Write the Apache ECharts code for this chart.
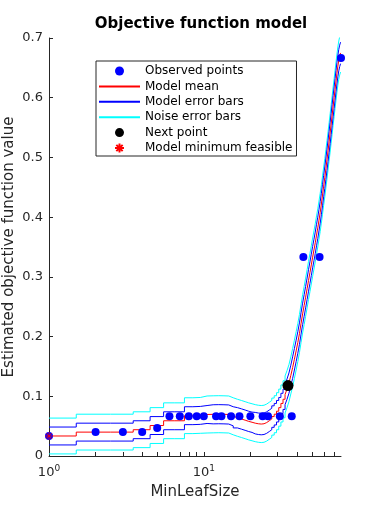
<!DOCTYPE html>
<html>
<head>
<meta charset="utf-8">
<script src="https://cdn.jsdelivr.net/npm/echarts@6/dist/echarts.min.js"></script>
<style>
  html, body { margin: 0; padding: 0; background: #fff; }
  #main { width: 377px; height: 512px; }
</style>
</head>
<body>
<div id="main"></div>
<script>
// MinLeafSize grid the model is evaluated on
var gridSize = [1, 2, 3, 4, 5, 6, 7, 8, 9, 10, 11, 12, 13, 14, 15, 16, 17, 18, 19, 20,
  21, 22, 23, 24, 25, 26, 27, 28, 29, 30, 31, 32, 33, 34, 35, 36, 37, 38, 39, 40,
  41, 42, 43, 44, 45, 46, 47, 48, 49, 50, 51, 52, 53, 54, 55, 56, 57, 58, 59, 60,
  61, 62, 63, 64, 65, 66, 67, 68, 69, 70, 71, 72, 73, 74, 75, 76, 77];

// model mean
var modelMean = [0.0335, 0.040, 0.040, 0.044, 0.051, 0.059, 0.059, 0.0675, 0.068, 0.0695,
  0.0698, 0.070, 0.0698, 0.0695, 0.0665, 0.064, 0.062, 0.060, 0.058, 0.0565,
  0.055, 0.054, 0.0535, 0.054, 0.056, 0.059, 0.062, 0.066, 0.070, 0.075,
  0.081, 0.088, 0.095, 0.103, 0.112, 0.122, 0.135, 0.148, 0.162, 0.176,
  0.190, 0.205, 0.222, 0.238, 0.252, 0.266, 0.280, 0.294, 0.307, 0.320,
  0.333, 0.345, 0.357, 0.370, 0.382, 0.395, 0.408, 0.422, 0.437, 0.452,
  0.466, 0.481, 0.496, 0.511, 0.526, 0.541, 0.556, 0.571, 0.586, 0.600,
  0.614, 0.628, 0.641, 0.653, 0.663, 0.670, 0.675];

// half width of model error bars
var modelErr = [0.015, 0.015, 0.015, 0.015, 0.015, 0.015, 0.015, 0.015, 0.015, 0.015,
  0.016, 0.016, 0.016, 0.016, 0.016, 0.017, 0.017, 0.017, 0.017, 0.017,
  0.018, 0.018, 0.018, 0.018, 0.018, 0.018, 0.018, 0.018, 0.018, 0.018,
  0.017, 0.017, 0.017, 0.017, 0.017, 0.017, 0.017, 0.018, 0.018, 0.018,
  0.018, 0.018, 0.018, 0.018, 0.018, 0.018, 0.018, 0.018, 0.018, 0.018,
  0.018, 0.018, 0.018, 0.018, 0.018, 0.018, 0.018, 0.018, 0.018, 0.018,
  0.018, 0.018, 0.018, 0.018, 0.018, 0.018, 0.018, 0.018, 0.018, 0.018,
  0.018, 0.018, 0.018, 0.018, 0.018, 0.018, 0.018];

// half width of noise error bars
var noiseErr = [0.030, 0.030, 0.030, 0.030, 0.030, 0.030, 0.030, 0.030, 0.030, 0.031,
  0.031, 0.031, 0.031, 0.031, 0.031, 0.031, 0.031, 0.031, 0.031, 0.031,
  0.031, 0.031, 0.031, 0.031, 0.031, 0.031, 0.031, 0.031, 0.031, 0.031,
  0.031, 0.031, 0.031, 0.031, 0.031, 0.031, 0.031, 0.032, 0.032, 0.032,
  0.032, 0.032, 0.032, 0.032, 0.032, 0.032, 0.032, 0.032, 0.032, 0.032,
  0.032, 0.032, 0.032, 0.032, 0.032, 0.032, 0.032, 0.032, 0.032, 0.032,
  0.032, 0.032, 0.032, 0.032, 0.032, 0.032, 0.032, 0.032, 0.032, 0.032,
  0.032, 0.032, 0.032, 0.032, 0.032, 0.032, 0.032];

var observedX = [1, 2, 3, 4, 5, 6, 7, 8, 9, 10, 12, 13, 15, 17, 20, 24, 26, 31, 37, 44, 56, 77];
var observedY = [0.0333, 0.040, 0.040, 0.040, 0.0467, 0.0667, 0.0667, 0.0667, 0.0667, 0.0667,
  0.0667, 0.0667, 0.0667, 0.0667, 0.0667, 0.0667, 0.0667, 0.0667, 0.0667, 0.3333, 0.3333, 0.6667];

var nextPoint = [35, 0.118];
var minFeasible = [1, 0.0335];

var xMajorTicks = [1, 10];
var xMinorTicks = [1, 2, 3, 4, 5, 6, 7, 8, 9, 10, 20, 30, 40, 50, 60, 70];

var FONT = 'DejaVu Sans';
var AX = '#262626';

// turn per-size values into [x, y] steps centred on each integer
function toStep(vals) {
    var d = gridSize.map(function (k, i) {
        return [i === 0 ? k : k - 0.5, vals[i]];
    });
    d.push([gridSize[gridSize.length - 1], vals[vals.length - 1]]);
    return d;
}
function shifted(err, sign) {
    return modelMean.map(function (m, i) { return m + sign * err[i]; });
}

function stepLine(name, color, vals, z) {
    return {
        name: name, type: 'line', step: 'end', data: toStep(vals),
        symbol: 'none', showSymbol: false, silent: true, z: z,
        lineStyle: { color: color, width: 1 }, itemStyle: { color: color }
    };
}

var asterisk = 'path://M10,0L10,20M0,10L20,10M3,3L17,17M3,17L17,3';
var lineIcon = { itemStyle: { opacity: 0 } };

var option = {
    animation: false,
    backgroundColor: '#fff',
    title: {
        text: 'Objective function model',
        left: 196, top: 12, textAlign: 'center',
        textStyle: { fontFamily: FONT, fontSize: 15, fontWeight: 'bold', color: '#000' }
    },
    legend: {
        orient: 'vertical', left: 96, top: 61,
        padding: [3, 4, 1, 2],
        itemWidth: 41, itemHeight: 9, itemGap: 1.4,
        borderColor: AX, borderWidth: 1, backgroundColor: '#fff',
        textStyle: { fontFamily: FONT, fontSize: 12, color: '#000', lineHeight: 14 },
        data: [
            { name: 'Observed points' },
            Object.assign({ name: 'Model mean' }, lineIcon),
            Object.assign({ name: 'Model error bars' }, lineIcon),
            Object.assign({ name: 'Noise error bars' }, lineIcon),
            { name: 'Next point' },
            { name: 'Model minimum feasible' }
        ]
    },
    grid: { left: 49, right: 36, top: 38, bottom: 56, outerBoundsMode: 'none' },
    xAxis: {
        type: 'log', logBase: 10, min: 1, max: 77,
        name: 'MinLeafSize', nameLocation: 'middle', nameGap: 29, nameMoveOverlap: false,
        nameTextStyle: { fontFamily: FONT, fontSize: 15, color: AX },
        axisLine: { lineStyle: { color: AX, width: 1 } },
        axisTick: { inside: true, length: 4, customValues: xMinorTicks, lineStyle: { color: AX } },
        axisLabel: {
            customValues: xMajorTicks, margin: 8, color: AX,
            formatter: function (v) {
                return '{b|10}{s|' + Math.round(Math.log10(v)) + '}';
            },
            rich: {
                b: { fontFamily: FONT, fontSize: 13, color: AX },
                s: { fontFamily: FONT, fontSize: 9, color: AX, padding: [0, 0, 9, 0] }
            }
        },
        splitLine: { show: false }
    },
    yAxis: {
        type: 'value', min: 0, max: 0.7, interval: 0.1,
        name: 'Estimated objective function value', nameLocation: 'middle',
        nameGap: 32, nameMoveOverlap: false,
        nameTextStyle: { fontFamily: FONT, fontSize: 15, color: AX },
        axisLine: { show: true, lineStyle: { color: AX, width: 1 } },
        axisTick: { show: true, inside: true, length: 4, lineStyle: { color: AX } },
        axisLabel: {
            fontFamily: FONT, fontSize: 13, color: AX, margin: 6,
            formatter: function (v) { return String(Math.round(v * 10) / 10); }
        },
        splitLine: { show: false }
    },
    series: [
        stepLine('Noise error bars', '#00ffff', shifted(noiseErr, 1), 1),
        stepLine('Noise error bars', '#00ffff', shifted(noiseErr, -1), 1),
        stepLine('Model error bars', '#0000ff', shifted(modelErr, 1), 2),
        stepLine('Model error bars', '#0000ff', shifted(modelErr, -1), 2),
        stepLine('Model mean', '#ff0000', modelMean, 3),
        {
            name: 'Observed points', type: 'scatter', z: 4, silent: true,
            symbol: 'circle', symbolSize: 8,
            itemStyle: { color: '#0000ff', opacity: 1 },
            data: observedX.map(function (x, i) { return [x, observedY[i]]; })
        },
        {
            name: 'Next point', type: 'scatter', z: 5, silent: true,
            symbol: 'circle', symbolSize: 11,
            itemStyle: { color: '#000000', opacity: 1 },
            data: [nextPoint]
        },
        {
            name: 'Model minimum feasible', type: 'scatter', z: 6, silent: true,
            symbol: asterisk, symbolSize: 8,
            itemStyle: { color: 'rgba(0,0,0,0)', borderColor: '#ff0000', borderWidth: 0.8, opacity: 1 },
            data: [minFeasible]
        }
    ]
};

var myChart = echarts.init(document.getElementById('main'));
myChart.setOption(option);
</script>
</body>
</html>
